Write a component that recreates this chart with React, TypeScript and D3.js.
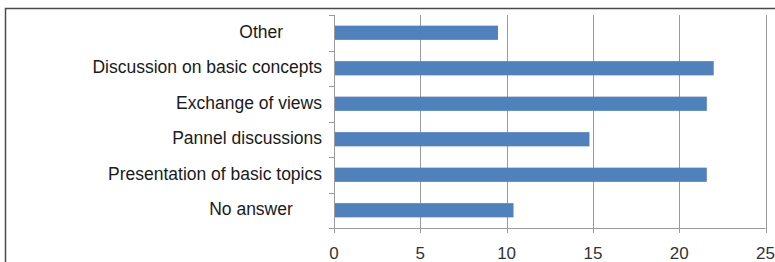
import { useEffect, useRef } from 'react';
import * as d3 from 'd3';

// labels keep the trailing blanks they carry in the original sheet
const categories = ['Other        ', 'Discussion on basic concepts', 'Exchange of views', 'Pannel discussions', 'Presentation of basic topics', 'No answer      '];
const values = [9.5, 22.0, 21.6, 14.8, 21.6, 10.4];
const xTicks = [0, 5, 10, 15, 20, 25];

export default function App() {
  const svgRef = useRef<SVGSVGElement>(null);

  useEffect(() => {
    const svg = d3.select(svgRef.current);
    svg.selectAll('*').remove();

    const width = 775;
    const height = 262;
    const plot = { left: 334, right: 765.5, top: 15, bottom: 228 };
    const font = '"Liberation Sans", Arial, sans-serif';

    const x = d3.scaleLinear().domain([0, 25]).range([plot.left, plot.right]);
    const y = d3.scaleBand<string>().domain(categories).range([plot.top, plot.bottom]).paddingInner(0.6).paddingOuter(0.3);
    const band = d3.scaleBand<string>().domain(categories).range([plot.top, plot.bottom]);

    svg.append('rect').attr('width', width).attr('height', height).attr('fill', '#fff');

    // chart frame (top and left edges visible)
    svg.append('path')
      .attr('d', `M5.5,${height} V8.5 H${width}`)
      .attr('fill', 'none')
      .attr('stroke', '#4a4a4a')
      .attr('stroke-width', 1.5);

    // vertical gridlines
    svg.append('g')
      .selectAll('line')
      .data(xTicks.slice(1))
      .enter()
      .append('line')
      .attr('x1', d => Math.round(x(d)) + 0.5)
      .attr('x2', d => Math.round(x(d)) + 0.5)
      .attr('y1', plot.top)
      .attr('y2', plot.bottom)
      .attr('stroke', '#9a9a9a');

    // bars
    svg.append('g')
      .selectAll('rect')
      .data(categories)
      .enter()
      .append('rect')
      .attr('x', plot.left)
      .attr('y', d => y(d)!)
      .attr('width', (d, i) => x(values[i]) - plot.left)
      .attr('height', y.bandwidth())
      .attr('fill', '#4f81bd');

    // y axis
    const yAxis = svg.append('g').attr('stroke', '#9a9a9a');
    yAxis.append('line')
      .attr('x1', plot.left + 0.5).attr('x2', plot.left + 0.5)
      .attr('y1', plot.top).attr('y2', plot.bottom);
    const yTickPos = categories.map(c => band(c)!).concat([plot.bottom]);
    yAxis.selectAll('line.tick')
      .data(yTickPos)
      .enter()
      .append('line')
      .attr('class', 'tick')
      .attr('x1', plot.left - 5).attr('x2', plot.left)
      .attr('y1', d => Math.round(d) + 0.5).attr('y2', d => Math.round(d) + 0.5);

    // x axis
    const xAxis = svg.append('g').attr('stroke', '#9a9a9a');
    xAxis.append('line')
      .attr('x1', plot.left).attr('x2', plot.right)
      .attr('y1', plot.bottom + 0.5).attr('y2', plot.bottom + 0.5);
    xAxis.selectAll('line.tick')
      .data(xTicks)
      .enter()
      .append('line')
      .attr('class', 'tick')
      .attr('x1', d => Math.round(x(d)) + 0.5).attr('x2', d => Math.round(x(d)) + 0.5)
      .attr('y1', plot.bottom).attr('y2', plot.bottom + 5);

    // category labels
    svg.append('g')
      .selectAll('text')
      .data(categories)
      .enter()
      .append('text')
      .attr('x', plot.left - 12)
      .attr('y', d => band(d)! + band.bandwidth() / 2 - 1)
      .attr('dy', '0.35em')
      .attr('text-anchor', 'end')
      .attr('font-family', font)
      .attr('font-size', 17.5)
      .attr('fill', '#1a1a1a')
      .style('white-space', 'pre')
      .text(d => d);

    // tick labels
    svg.append('g')
      .selectAll('text')
      .data(xTicks)
      .enter()
      .append('text')
      .attr('x', d => x(d))
      .attr('y', 253)
      .attr('dy', '0.35em')
      .attr('text-anchor', 'middle')
      .attr('font-family', font)
      .attr('font-size', 17)
      .attr('fill', '#333')
      .text(d => d);
  }, []);

  return (
    <svg ref={svgRef} width={775} height={262} style={{ position: 'absolute', left: 0, top: 0, display: 'block' }} />
  );
}
